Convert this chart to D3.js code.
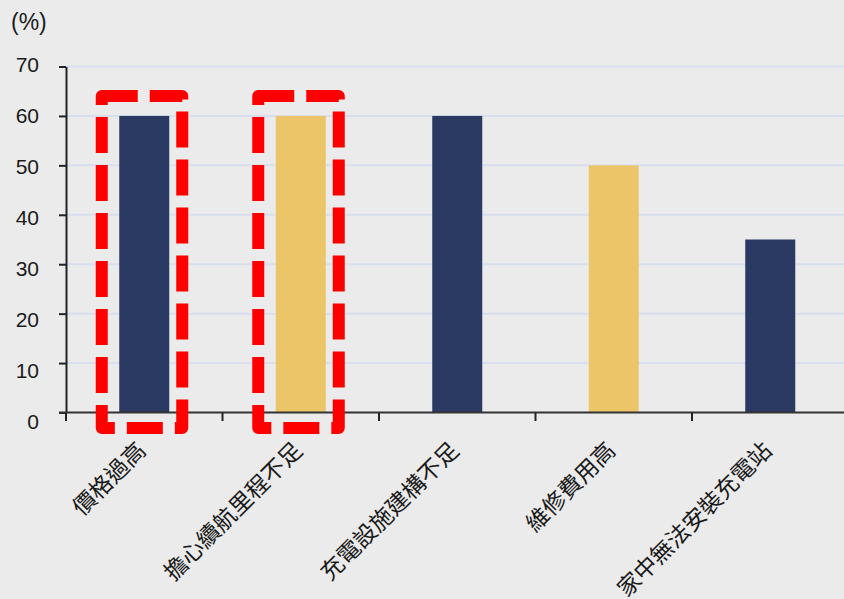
<!DOCTYPE html>
<html>
<head>
<meta charset="utf-8">
<script src="https://cdn.jsdelivr.net/npm/d3@7/dist/d3.min.js"></script>
<style>
  html, body { margin: 0; padding: 0; background: #ebebeb; }
  svg { display: block; }
</style>
</head>
<body>
<script>
// ---- data ----
const categories = ["價格過高", "擔心續航里程不足", "充電設施建構不足", "維修費用高", "家中無法安裝充電站"];
const values = [60, 60, 60, 50, 35];
const yTicks = [0, 10, 20, 30, 40, 50, 60, 70];
const highlighted = ["價格過高", "擔心續航里程不足"];
const unitLabel = "(%)";

// ---- styles ----
const W = 844, H = 599;
const navy = "#2b3a63", gold = "#ebc567";
const bg = "#ebebeb";

const svg = d3.select("body").append("svg").attr("width", W).attr("height", H);
svg.append("rect").attr("width", W).attr("height", H).attr("fill", bg);

const x = d3.scaleBand().domain(categories).range([66, 848.5]).paddingInner(0).paddingOuter(0);
const y = d3.scaleLinear().domain([0, 70]).range([412.5, 66.5]);
const yLab = d3.scaleLinear().domain([0, 70]).range([421.7, 64.7]);
const color = d3.scaleOrdinal().domain(categories).range([navy, gold, navy, gold, navy]);
const bw = x.bandwidth();
const barW = 50;

// gridlines
svg.append("g").selectAll("line").data(yTicks.filter(t => t > 0)).join("line")
  .attr("x1", 66).attr("x2", W)
  .attr("y1", d => y(d)).attr("y2", d => y(d))
  .attr("stroke", "#d7dfee").attr("stroke-width", 2);

// bars
svg.append("g").selectAll("rect").data(categories).join("rect")
  .attr("x", d => x(d) + (bw - barW) / 2)
  .attr("width", barW)
  .attr("y", (d, i) => y(values[i]))
  .attr("height", (d, i) => y(0) - y(values[i]))
  .attr("fill", d => color(d));

// y axis
const yAxis = d3.axisLeft(y).tickValues(yTicks).tickSize(7).tickSizeOuter(0).tickFormat("");
const gy = svg.append("g").attr("transform", "translate(66,0)").call(yAxis);
gy.select(".domain").attr("stroke", "#222").attr("stroke-width", 2);
gy.selectAll(".tick line").attr("stroke", "#222").attr("stroke-width", 2);

// y labels
svg.append("g").selectAll("text").data(yTicks).join("text")
  .attr("x", 39).attr("y", d => yLab(d))
  .attr("dy", "0.36em")
  .attr("text-anchor", "end")
  .attr("font-family", "'Liberation Sans', Arial, sans-serif")
  .attr("font-size", 21)
  .attr("fill", "#1a1a1a")
  .text(d => d);

svg.append("text").attr("x", 11).attr("y", 29.5)
  .attr("font-family", "'Liberation Sans', Arial, sans-serif")
  .attr("font-size", 23).attr("fill", "#1a1a1a").text(unitLabel);

// x axis line
svg.append("line").attr("x1", 59).attr("x2", W).attr("y1", y(0)).attr("y2", y(0))
  .attr("stroke", "#333").attr("stroke-width", 2);
// category boundary ticks
const bounds = categories.map(c => x(c)).concat([x.range()[1]]);
svg.append("g").selectAll("line").data(bounds).join("line")
  .attr("x1", d => d).attr("x2", d => d)
  .attr("y1", y(0)).attr("y2", y(0) + 8.5)
  .attr("stroke", "#222").attr("stroke-width", 2);

// category labels
svg.append("g").selectAll("text").data(categories).join("text")
  .attr("transform", d => `translate(${x(d) + bw / 2 + 3},452) rotate(-45)`)
  .attr("text-anchor", "end")
  .attr("font-family", "'Noto Sans CJK TC', 'Noto Sans CJK SC', sans-serif")
  .attr("font-size", 23)
  .attr("fill", "#1a1a1a")
  .text(d => d);

// highlight dashed boxes
svg.append("g").selectAll("path").data(highlighted).join("path")
  .attr("d", d => {
    const c = x(d) + bw / 2;
    const x0 = c - 42.5, x1 = c + 38;
    const y0 = y(60) - 20, y1 = y(0) + 15.5;
    return `M${x0},${y0}H${x1}V${y1}H${x0}Z`;
  })
  .attr("fill", "none")
  .attr("stroke", "#ff0000")
  .attr("stroke-width", 12)
  .attr("stroke-linejoin", "round")
  .attr("stroke-dasharray", "36 12");
</script>
</body>
</html>
